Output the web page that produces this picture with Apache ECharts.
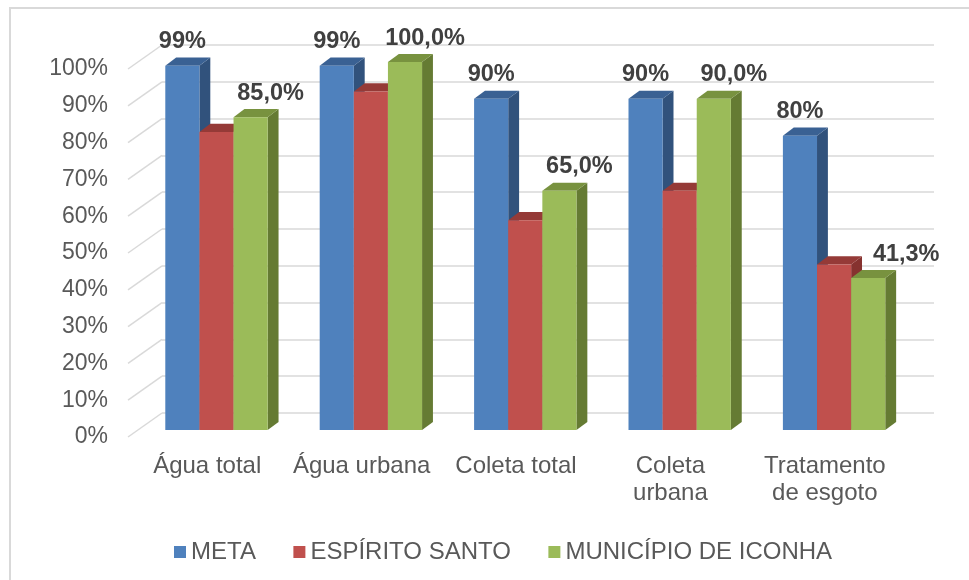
<!DOCTYPE html>
<html>
<head>
<meta charset="utf-8">
<script src="https://cdn.jsdelivr.net/npm/echarts@6/dist/echarts.min.js"></script>
<style>html,body{margin:0;padding:0;background:#fff}#c{width:969px;height:580px}</style>
</head>
<body>
<div id="c"></div>
<script>
var categories = ['Água total', 'Água urbana', 'Coleta total', 'Coleta\nurbana', 'Tratamento\nde esgoto'];
var seriesNames = ['META', 'ESPÍRITO SANTO', 'MUNICÍPIO DE ICONHA'];
var meta = [99, 99, 90, 90, 80];
var espiritoSanto = [81, 92, 57, 65, 45];
var iconha = [85.0, 100.0, 65.0, 90.0, 41.3];
var yTicks = [0, 10, 20, 30, 40, 50, 60, 70, 80, 90, 100];

var FONT = '"Liberation Sans", Arial, sans-serif';
var DEPTH = [32, -24];          // wall depth projection
var BAR_OFF = 0.29, BAR_DEPTH = 0.34;
var palette = [
  {front: '#4f81bd', top: '#3a6193', side: '#31527c'},
  {front: '#c0504d', top: '#953a37', side: '#86322f'},
  {front: '#9bbb59', top: '#78923f', side: '#657b33'}
];
var labelFmt = [
  function (v) { return v + '%'; },
  null,
  function (v) { return v.toFixed(1).replace('.', ',') + '%'; }
];

function makeRender(si) {
  return function (params, api) {
    var ci = api.value(0), v = api.value(1);
    var base = api.coord([ci, 0]);
    var top = api.coord([ci, v]);
    var band = api.size([1, 0])[0];
    var bw = band * 0.221;
    var ox = DEPTH[0] * BAR_OFF, oy = DEPTH[1] * BAR_OFF;
    var dx = DEPTH[0] * BAR_DEPTH, dy = DEPTH[1] * BAR_DEPTH;
    var x0 = base[0] - 1.5 * bw + si * bw + ox;
    var x1 = x0 + bw;
    var yb = base[1] + oy, yt = top[1] + oy;
    var c = palette[si];
    var children = [
      {type: 'polygon', shape: {points: [[x1, yt], [x1 + dx, yt + dy], [x1 + dx, yb + dy], [x1, yb]]}, style: {fill: c.side}},
      {type: 'polygon', shape: {points: [[x0, yt], [x1, yt], [x1 + dx, yt + dy], [x0 + dx, yt + dy]]}, style: {fill: c.top}},
      {type: 'rect', shape: {x: x0, y: yt, width: bw, height: yb - yt}, style: {fill: c.front}}
    ];
    if (labelFmt[si]) {
      var lx = 0;
      if (si === 2) lx = (ci === 4) ? 38 : 20;
      children.push({
        type: 'text', x: x0 + bw / 2 + lx, y: yt - 24, z2: 10,
        style: {text: labelFmt[si](v), font: 'bold 23.5px ' + FONT, fill: '#404040', align: 'center', verticalAlign: 'middle'}
      });
    }
    return {type: 'group', children: children};
  };
}

var series = [];
series.push({
  type: 'custom', xAxisIndex: 0, yAxisIndex: 0, silent: true, clip: false,
  data: yTicks.map(function (t) { return [0, t]; }),
  renderItem: function (params, api) {
    var p = api.coord([0, api.value(1)]);
    var x = params.coordSys.x;
    return {type: 'line', shape: {x1: x - 2, y1: p[1], x2: x + DEPTH[0], y2: p[1] + DEPTH[1]}, style: {stroke: '#d9d9d9', lineWidth: 1.5}};
  }
});
[meta, espiritoSanto, iconha].forEach(function (arr, si) {
  series.push({
    name: seriesNames[si], type: 'custom', xAxisIndex: 0, yAxisIndex: 0, clip: false,
    itemStyle: {color: palette[si].front},
    data: arr.map(function (v, i) { return [i, v]; }),
    renderItem: makeRender(si)
  });
});

var L = 130, R = 67, T = 69, B = 143;
var option = {
  animation: false,
  backgroundColor: '#fff',
  graphic: [{type: 'rect', shape: {x: 10, y: 8, width: 990, height: 620}, style: {fill: null, stroke: '#d9d9d9', lineWidth: 2}, silent: true, z: -10}],
  legend: {
    data: seriesNames, left: 169, top: 535, icon: 'rect', itemWidth: 12, itemHeight: 12, itemGap: 37.5,
    textStyle: {fontFamily: FONT, fontSize: 24, color: '#595959'}
  },
  grid: [
    {left: L, right: R, top: T, bottom: B},
    {left: L + DEPTH[0], right: R - DEPTH[0], top: T + DEPTH[1], bottom: B - DEPTH[1]}
  ],
  xAxis: [
    {type: 'category', gridIndex: 0, data: categories, axisLine: {show: false}, axisTick: {show: false},
      axisLabel: {fontFamily: FONT, fontSize: 24, color: '#595959', margin: 16, lineHeight: 27, interval: 0}},
    {type: 'category', gridIndex: 1, data: categories, show: false}
  ],
  yAxis: [
    {type: 'value', gridIndex: 0, min: 0, max: 100, interval: 10, splitLine: {show: false}, axisLine: {show: false}, axisTick: {show: false},
      axisLabel: {formatter: '{value}%', fontFamily: FONT, fontSize: 23, color: '#595959', margin: 22}},
    {type: 'value', gridIndex: 1, min: 0, max: 100, interval: 10, axisLine: {show: false}, axisTick: {show: false}, axisLabel: {show: false},
      splitLine: {show: true, lineStyle: {color: '#d9d9d9', width: 1.5}}}
  ],
  series: series
};
var chart = echarts.init(document.getElementById('c'), null, {renderer: 'canvas'});
chart.setOption(option);
</script>
</body>
</html>
